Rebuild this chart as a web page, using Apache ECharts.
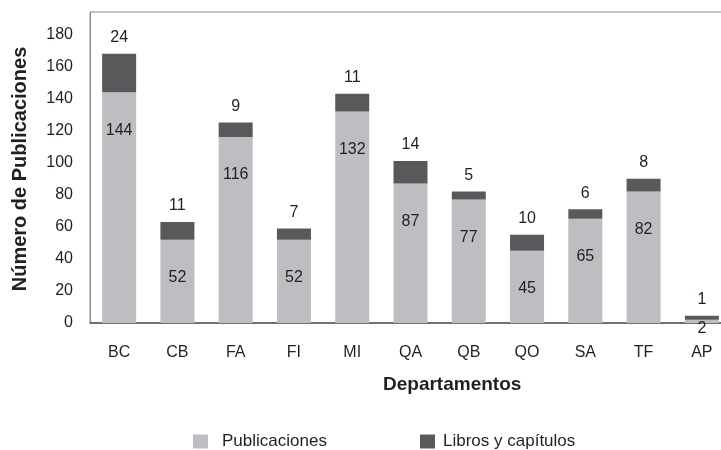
<!DOCTYPE html>
<html>
<head>
<meta charset="utf-8">
<script src="https://cdn.jsdelivr.net/npm/echarts@6/dist/echarts.min.js"></script>
<style>
  html, body { margin: 0; padding: 0; background: #fff; }
  #main { width: 721px; height: 450px; }
</style>
</head>
<body>
<div id="main"></div>
<script>
var departamentos = ['BC', 'CB', 'FA', 'FI', 'MI', 'QA', 'QB', 'QO', 'SA', 'TF', 'AP'];
var publicaciones = [144, 52, 116, 52, 132, 87, 77, 45, 65, 82, 2];
var libros = [24, 11, 9, 7, 11, 14, 5, 10, 6, 8, 1];

var colorPub = '#bdbec1';
var colorLib = '#58595b';
var txt = '#231f20';
var fuente = 'Liberation Sans, Arial, sans-serif';

var myChart = echarts.init(document.getElementById('main'));

// las barras muy bajas llevan la etiqueta debajo del eje
var pubData = publicaciones.map(function (v) {
    if (v < 10) {
        return {value: v, label: {position: 'bottom', distance: -2}};
    }
    return v;
});

var option = {
    animation: false,
    textStyle: {fontFamily: fuente},
    grid: {
        left: 90,
        right: -10,
        top: 12,
        bottom: 127,
        show: true,
        borderColor: '#8c8c8c',
        borderWidth: 1,
        containLabel: false,
        outerBoundsMode: 'none'
    },
    legend: [
        {
            left: 193, top: 433, padding: 0,
            itemWidth: 15, itemHeight: 14,
            icon: 'rect',
            textStyle: {fontSize: 17, color: txt, fontFamily: fuente, padding: [0, 0, 0, 9]},
            data: ['Publicaciones']
        },
        {
            left: 420, top: 433, padding: 0,
            itemWidth: 15, itemHeight: 14,
            icon: 'rect',
            textStyle: {fontSize: 17, color: txt, fontFamily: fuente, padding: [0, 0, 0, 3]},
            data: ['Libros y capítulos']
        }
    ],
    xAxis: {
        type: 'category',
        data: departamentos,
        axisLine: {show: true, lineStyle: {color: '#555', width: 1.5}},
        axisTick: {show: false},
        axisLabel: {fontSize: 16, color: txt, margin: 22, fontFamily: fuente}
    },
    yAxis: {
        type: 'value',
        min: 0,
        max: 194,
        interval: 20,
        splitLine: {show: false},
        axisTick: {show: false},
        axisLine: {show: true, lineStyle: {color: '#8c8c8c'}},
        axisLabel: {fontSize: 16, color: txt, margin: 17, showMaxLabel: false, fontFamily: fuente}
    },
    graphic: [
        {
            type: 'text',
            x: 383, y: 385,
            style: {
                text: 'Departamentos',
                x: 0, y: 0,
                textAlign: 'left', textVerticalAlign: 'middle',
                font: 'bold 19px ' + fuente,
                fill: txt
            }
        },
        {
            type: 'text',
            x: 20, y: 169,
            rotation: Math.PI / 2,
            style: {
                text: 'Número de Publicaciones',
                x: 0, y: 0,
                textAlign: 'center', textVerticalAlign: 'middle',
                font: 'bold 20px ' + fuente,
                fill: txt
            }
        }
    ],
    series: [
        {
            name: 'Publicaciones',
            type: 'bar',
            stack: 'total',
            barWidth: 34,
            itemStyle: {color: colorPub},
            label: {
                show: true,
                position: 'insideTop',
                distance: 30,
                fontSize: 16,
                color: txt,
                fontFamily: fuente
            },
            data: pubData
        },
        {
            name: 'Libros y capítulos',
            type: 'bar',
            stack: 'total',
            barWidth: 34,
            barMinHeight: 4,
            itemStyle: {color: colorLib},
            label: {
                show: true,
                position: 'top',
                distance: 8,
                fontSize: 16,
                color: txt,
                fontFamily: fuente
            },
            data: libros
        }
    ]
};

myChart.setOption(option);
</script>
</body>
</html>
